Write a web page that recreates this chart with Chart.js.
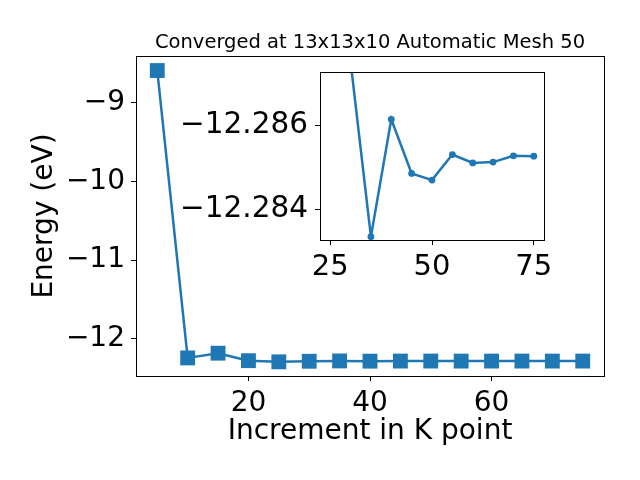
<!DOCTYPE html>
<html lang="en">
<head>
<meta charset="UTF-8">
<title>K point convergence</title>
<script src="https://cdn.jsdelivr.net/npm/chart.js"></script>
<style>
    body { margin: 0; background: #fff; }
    .wrap { position: relative; width: 640px; height: 480px; }
    #mainChart { position: absolute; left: 0; top: 0; }
    #insetChart { position: absolute; left: 170px; top: 62px; }
</style>
</head>
<body>
<div class="wrap">
    <canvas id="mainChart" width="640" height="480"></canvas>
    <canvas id="insetChart" width="394" height="228"></canvas>
</div>
<script>
    // values
    const kPoints = [5, 10, 15, 20, 25, 30, 35, 40, 45, 50, 55, 60, 65, 70, 75];
    const energies = [-8.59, -12.245, -12.185, -12.28, -12.295, -12.28753, -12.28335, -12.28615,
                      -12.28486, -12.2847, -12.28531, -12.28511, -12.28513, -12.28528, -12.28527];
    const mainXTicks = [20, 40, 60];
    const mainYTicks = [-12, -11, -10, -9];
    const insetXTicks = [25, 50, 75];
    const insetYTicks = [-12.286, -12.284];
    const chartTitle = 'Converged at 13x13x10 Automatic Mesh 50';

    const blue = '#1f77b4';
    const fontFamily = '"DejaVu Sans", sans-serif';
    const points = kPoints.map((k, i) => ({ x: k, y: energies[i] }));
    const minus = s => String(s).replace('-', '\u2212');

    // white axes face + black box round the plot area (+ title over the plot area)
    const boxPlugin = {
        id: 'box',
        beforeDraw(chart, args, opts) {
            if (!opts.fill) return;
            const a = chart.chartArea;
            chart.ctx.save();
            chart.ctx.fillStyle = '#fff';
            chart.ctx.fillRect(a.left, a.top, a.right - a.left, a.bottom - a.top);
            chart.ctx.restore();
        },
        afterDraw(chart, args, opts) {
            const a = chart.chartArea;
            const ctx = chart.ctx;
            ctx.save();
            ctx.strokeStyle = '#000';
            ctx.lineWidth = 1;
            ctx.strokeRect(Math.round(a.left) + 0.5, Math.round(a.top) + 0.5,
                Math.round(a.right - a.left), Math.round(a.bottom - a.top));
            if (opts.title) {
                ctx.fillStyle = '#000';
                ctx.font = '19.5px ' + fontFamily;
                ctx.textAlign = 'center';
                ctx.textBaseline = 'alphabetic';
                ctx.fillText(opts.title, (a.left + a.right) / 2, a.top - 8);
            }
            ctx.restore();
        }
    };

    function axisTicks(size, pad) {
        return { color: '#000', font: { family: fontFamily, size: size }, padding: pad };
    }
    const tickGrid = { drawOnChartArea: false, drawTicks: true, tickLength: 5, tickColor: '#000', tickWidth: 1 };
    const noEdgePad = s => { s.paddingTop = 0; s.paddingBottom = 0; s.paddingLeft = 0; s.paddingRight = 0; };

    new Chart(document.getElementById('mainChart'), {
        type: 'line',
        data: {
            datasets: [{
                data: points,
                borderColor: blue,
                backgroundColor: blue,
                borderWidth: 2.5,
                pointStyle: 'rect',
                pointRadius: 10.5,
                pointBorderWidth: 0,
                tension: 0
            }]
        },
        options: {
            responsive: false,
            devicePixelRatio: 1,
            animation: false,
            layout: { padding: { left: 0, right: 36, top: 56, bottom: 0 } },
            plugins: {
                legend: { display: false },
                tooltip: { enabled: false },
                title: { display: false },
                box: { fill: false, title: chartTitle }
            },
            scales: {
                x: {
                    type: 'linear',
                    min: 1.5,
                    max: 78.5,
                    afterBuildTicks: s => { s.ticks = mainXTicks.map(v => ({ value: v })); },
                    afterFit: s => { s.height = 104; noEdgePad(s); },
                    ticks: axisTicks(28, 6),
                    grid: tickGrid,
                    border: { display: false },
                    title: {
                        display: true,
                        text: 'Increment in K point',
                        color: '#000',
                        font: { family: fontFamily, size: 28 },
                        padding: 31
                    }
                },
                y: {
                    type: 'linear',
                    min: -12.475,
                    max: -8.405,
                    afterBuildTicks: s => { s.ticks = mainYTicks.map(v => ({ value: v })); },
                    afterFit: s => { s.width = 136; noEdgePad(s); },
                    ticks: Object.assign(axisTicks(28, 6), { callback: v => minus(v) }),
                    grid: tickGrid,
                    border: { display: false },
                    title: {
                        display: true,
                        text: 'Energy (eV)',
                        color: '#000',
                        font: { family: fontFamily, size: 28 },
                        padding: 28
                    }
                }
            }
        },
        plugins: [boxPlugin]
    });

    new Chart(document.getElementById('insetChart'), {
        type: 'line',
        data: {
            datasets: [{
                data: points,
                borderColor: blue,
                backgroundColor: blue,
                borderWidth: 2.5,
                pointStyle: 'circle',
                pointRadius: 3.4,
                pointBorderWidth: 0,
                tension: 0,
                clip: 0
            }]
        },
        options: {
            responsive: false,
            devicePixelRatio: 1,
            animation: false,
            layout: { padding: { left: 0, right: 20, top: 10, bottom: 0 } },
            plugins: {
                legend: { display: false },
                tooltip: { enabled: false },
                box: { fill: true }
            },
            scales: {
                x: {
                    type: 'linear',
                    min: 22.5,
                    max: 77.5,
                    afterBuildTicks: s => { s.ticks = insetXTicks.map(v => ({ value: v })); },
                    afterFit: s => { s.height = 50; noEdgePad(s); },
                    ticks: axisTicks(29, 5),
                    grid: tickGrid,
                    border: { display: false }
                },
                y: {
                    type: 'linear',
                    reverse: true,
                    min: -12.28728,
                    max: -12.28327,
                    afterBuildTicks: s => { s.ticks = insetYTicks.map(v => ({ value: v })); },
                    afterFit: s => { s.width = 150; noEdgePad(s); },
                    ticks: Object.assign(axisTicks(29.5, 7), { callback: v => minus(v.toFixed(3)) }),
                    grid: tickGrid,
                    border: { display: false }
                }
            }
        },
        plugins: [boxPlugin]
    });
</script>
</body>
</html>
